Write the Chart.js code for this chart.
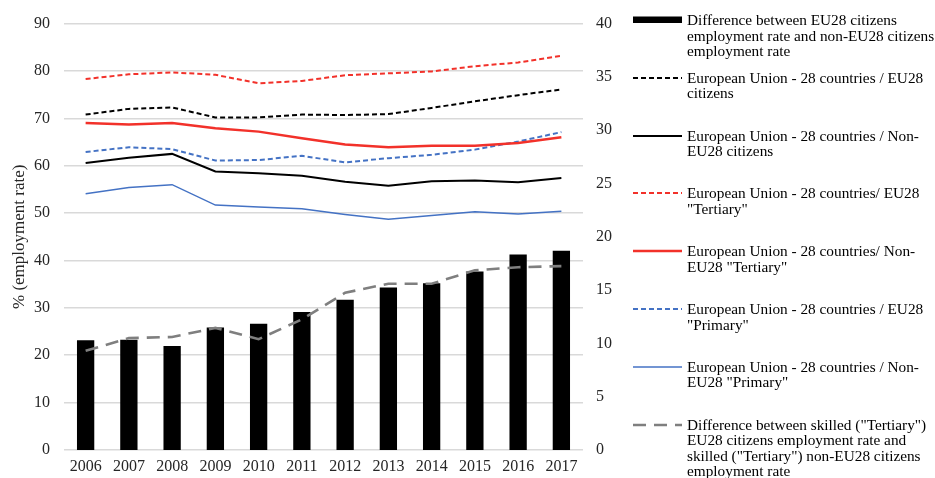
<!DOCTYPE html>
<html>
<head>
<meta charset="utf-8">
<script src="https://cdn.jsdelivr.net/npm/chart.js@4"></script>
<style>
  body { margin:0; background:#fff; width:935px; height:478px; overflow:hidden; position:relative; font-family:"Liberation Serif", serif; }
  #wrap { position:absolute; left:0; top:0; width:635px; height:478px; }
  #legend { position:absolute; left:633px; top:0; width:302px; }
  .item { position:absolute; left:0; display:flex; align-items:flex-start; }
  .sw { width:49px; height:15px; flex:none; position:relative; }
  .sw canvas { position:absolute; left:0; top:0; }
  .txt { margin-left:5px; font-size:15.3px; line-height:15.5px; color:#000; white-space:nowrap; }
</style>
</head>
<body>
<div id="wrap"><canvas id="chart"></canvas></div>
<div id="legend"></div>
<script>
const years = ['2006','2007','2008','2009','2010','2011','2012','2013','2014','2015','2016','2017'];

// right axis (difference)
const diffAll = [10.3, 10.35, 9.75, 11.5, 11.85, 12.95, 14.1, 15.25, 15.65, 16.75, 18.35, 18.7];
const diffTertiary = [9.3, 10.5, 10.6, 11.45, 10.4, 12.25, 14.75, 15.6, 15.6, 16.85, 17.15, 17.25];

// left axis (employment rate)
const euCitizens = [70.8, 72.0, 72.3, 70.2, 70.2, 70.8, 70.7, 70.9, 72.2, 73.6, 74.9, 76.1];
const nonEuCitizens = [60.6, 61.7, 62.5, 58.8, 58.4, 57.9, 56.6, 55.8, 56.7, 56.9, 56.5, 57.4];
const euTertiary = [78.3, 79.3, 79.7, 79.2, 77.4, 77.9, 79.1, 79.5, 79.9, 81.0, 81.8, 83.2];
const nonEuTertiary = [69.0, 68.7, 69.0, 67.9, 67.2, 65.8, 64.5, 63.9, 64.2, 64.2, 64.8, 66.0];
const euPrimary = [62.9, 63.9, 63.5, 61.1, 61.2, 62.1, 60.7, 61.6, 62.3, 63.4, 65.1, 67.1];
const nonEuPrimary = [54.1, 55.4, 56.0, 51.7, 51.3, 50.9, 49.7, 48.7, 49.5, 50.3, 49.8, 50.4];

const leftTicks = [0,10,20,30,40,50,60,70,80,90];
const rightTicks = [0,5,10,15,20,25,30,35,40];

const RED = '#F2312A', BLUE = '#4472C4', GREY = '#7F7F7F';
const font = { family: '"Liberation Serif", serif', size: 16 };

const series = [
  { type:'bar', label:'Difference between EU28 citizens\nemployment rate and non-EU28 citizens\nemployment rate', data:diffAll, yAxisID:'y1', backgroundColor:'#000', order:9, sw:'bar' },
  { label:'European Union - 28 countries / EU28\ncitizens', data:euCitizens, color:'#000', width:2, dash:[5,3] },
  { label:'European Union - 28 countries / Non-\nEU28 citizens', data:nonEuCitizens, color:'#000', width:2, dash:[] },
  { label:'European Union - 28 countries/ EU28\n"Tertiary"', data:euTertiary, color:RED, width:2, dash:[5,3] },
  { label:'European Union - 28 countries/ Non-\nEU28 "Tertiary"', data:nonEuTertiary, color:RED, width:2.5, dash:[] },
  { label:'European Union - 28 countries / EU28\n"Primary"', data:euPrimary, color:BLUE, width:2, dash:[5,3] },
  { label:'European Union - 28 countries / Non-\nEU28 "Primary"', data:nonEuPrimary, color:BLUE, width:1.5, dash:[] },
  { label:'Difference between skilled ("Tertiary")\nEU28 citizens employment rate and\nskilled ("Tertiary") non-EU28 citizens\nemployment rate', data:diffTertiary, yAxisID:'y1', color:GREY, width:2.6, dash:[13,8] }
];

const datasets = series.map(s => s.type === 'bar' ? {
  type:'bar', label:s.label, data:s.data, yAxisID:'y1', backgroundColor:'#000',
  barPercentage:0.4, categoryPercentage:1, order:9
} : {
  type:'line', label:s.label, data:s.data, yAxisID:s.yAxisID || 'y',
  borderColor:s.color, borderWidth:s.width, borderDash:s.dash,
  pointRadius:0, fill:false, tension:0, order:1
});

new Chart(document.getElementById('chart'), {
  data: { labels: years, datasets: datasets },
  options: {
    responsive:true, maintainAspectRatio:false, animation:false,
    layout:{ padding:{ top:12, bottom:0, left:0, right:0 } },
    plugins:{ legend:{ display:false }, tooltip:{ enabled:false } },
    scales:{
      x:{
        offset:true,
        grid:{ display:false }, border:{ display:false },
        ticks:{ font:font, color:'#262626', padding:-1, maxRotation:0 },
        afterFit: s => { s.height = 28; }
      },
      y:{
        position:'left', min:0, max:90,
        afterBuildTicks: s => { s.ticks = leftTicks.map(v => ({ value:v })); },
        grid:{ color:'#D9D9D9', lineWidth:1.5, drawTicks:false }, border:{ display:false },
        ticks:{ font:font, color:'#262626', padding:14 },
        title:{ display:true, text:'% (employment rate)', font:{ family:font.family, size:17 }, color:'#262626', padding:{ top:9, bottom:0 } },
        afterFit: s => { s.width = 64; }
      },
      y1:{
        position:'right', min:0, max:40,
        afterBuildTicks: s => { s.ticks = rightTicks.map(v => ({ value:v })); },
        grid:{ display:false, drawTicks:false }, border:{ display:false },
        ticks:{ font:font, color:'#262626', padding:13 },
        afterFit: s => { s.width = 52; }
      }
    }
  }
});

// legend drawn as html next to the chart
const leg = document.getElementById('legend');
series.forEach((s, i) => {
  const item = document.createElement('div');
  item.className = 'item';
  item.style.top = (12 + i * 57.8) + 'px';
  const sw = document.createElement('div');
  sw.className = 'sw';
  const c = document.createElement('canvas');
  c.width = 49; c.height = 15;
  const g = c.getContext('2d');
  if (s.sw === 'bar') {
    g.fillStyle = '#000'; g.fillRect(0, 4.5, 49, 6.5);
  } else {
    g.strokeStyle = s.color; g.lineWidth = s.width; g.setLineDash(s.dash);
    g.beginPath(); g.moveTo(0, 8); g.lineTo(49, 8); g.stroke();
  }
  sw.appendChild(c);
  const t = document.createElement('div');
  t.className = 'txt';
  t.innerText = s.label;
  item.appendChild(sw); item.appendChild(t);
  leg.appendChild(item);
});
</script>
</body>
</html>
